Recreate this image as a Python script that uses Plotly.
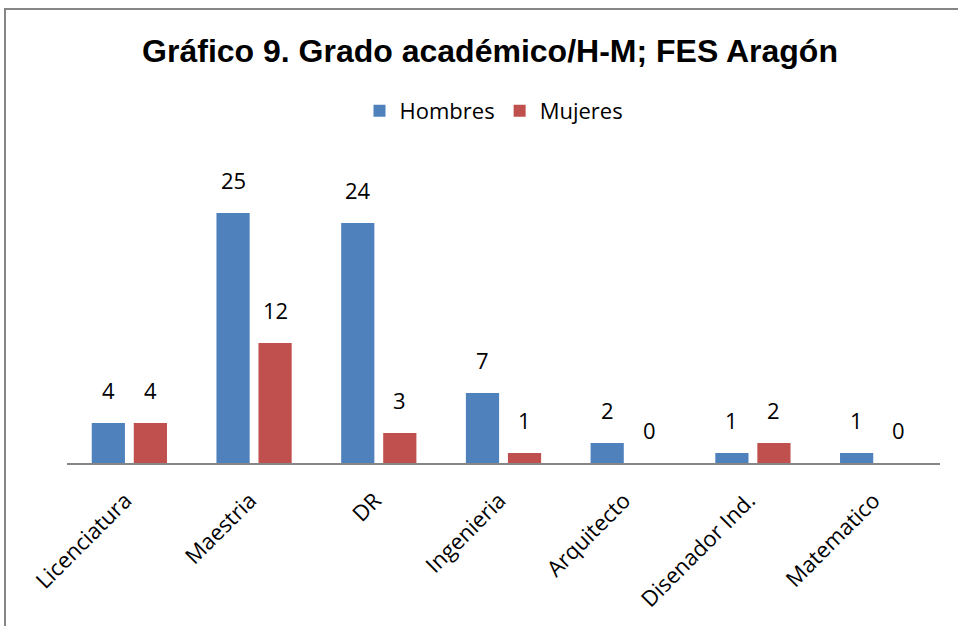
import plotly.graph_objects as go

categories = ["Licenciatura", "Maestria", "DR", "Ingenieria", "Arquitecto", "Disenador Ind.", "Matematico"]
hombres = [4, 25, 24, 7, 2, 1, 1]
mujeres = [4, 12, 3, 1, 0, 2, 0]
series = [("Hombres", hombres, "#4F81BD"), ("Mujeres", mujeres, "#C0504D")]

W, H = 958, 626
L, R, T, B = 67, 18, 163, 163
pw = W - L - R
ph = H - T - B
BARGAP, GROUPGAP = 0.326, 0.21

fig = go.Figure()
for name, vals, color in series:
    fig.add_trace(go.Bar(name=name, x=categories, y=vals, marker_color=color,
                         marker_line=dict(width=0)))

# value labels above bars, offset to each bar of the group
cat_w = pw / len(categories)
slot = cat_w * (1 - BARGAP) / len(series)
for j, (name, vals, color) in enumerate(series):
    off = (j - (len(series) - 1) / 2) * slot
    for c, v in zip(categories, vals):
        fig.add_annotation(x=c, y=v, text=str(v), showarrow=False,
                           xshift=off, yshift=16, yanchor="bottom",
                           font=dict(family="Open Sans", size=22, color="#000000"))

fig.update_layout(
    width=W, height=H,
    margin=dict(l=L, r=R, t=T, b=B),
    paper_bgcolor="white", plot_bgcolor="white",
    barmode="group", bargap=BARGAP, bargroupgap=GROUPGAP,
    title=dict(text="<b>Gráfico 9. Grado académico/H-M; FES Aragón</b>",
               font=dict(family="Liberation Sans, Arial", size=32, color="#000000"),
               x=490 / W, xref="container", xanchor="center",
               y=1 - 51 / H, yref="container", yanchor="middle"),
    legend=dict(orientation="h", x=494 / W, xref="container", xanchor="center",
                y=1 - 111 / H, yref="container", yanchor="middle",
                font=dict(family="Open Sans", size=22, color="#000000"),
                itemsizing="constant", traceorder="normal"),
    xaxis=dict(showline=True, linecolor="#868686", linewidth=2, ticks="",
               tickangle=-45, ticklabelstandoff=14, ticklabelshift=-4,
               tickfont=dict(family="Open Sans", size=22, color="#000000"),
               showgrid=False),
    yaxis=dict(range=[0, 30], visible=False, showgrid=False, zeroline=False),
)

# outer chart border
fig.add_shape(type="rect", xref="paper", yref="paper",
              x0=(5 - L) / pw, x1=(W + 5 - L) / pw,
              y0=-(B + 5) / ph, y1=1 + (T - 9) / ph,
              line=dict(color="#868686", width=2), fillcolor="rgba(0,0,0,0)", layer="below")

fig.write_html("out.html", config={"displayModeBar": False},
               post_script="document.body.style.margin='0';")
